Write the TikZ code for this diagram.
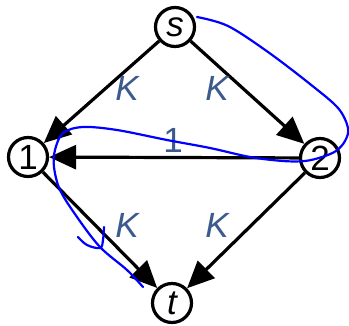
\documentclass[tikz,border=0pt]{standalone}
\usepackage{fontspec}
\setmainfont{Liberation Sans}
\usepackage{tikz}
\usetikzlibrary{arrows.meta}
\definecolor{labelblue}{RGB}{60,90,140}
\tikzset{
  vertex/.style={draw, circle, line width=3.2pt, minimum size=39pt, inner sep=0pt, fill=white, font=\fontsize{35}{40}\selectfont},
  edgearrow/.style={-{Triangle[length=27pt,width=24pt]}, line width=3.2pt},
  edgelabel/.style={text=labelblue, font=\fontsize{35}{40}\selectfont\itshape},
  scribble/.style={blue, line width=2.2pt, line cap=round, line join=round},
}

\begin{document}
\begin{tikzpicture}[x=1pt, y=-1pt]
  \useasboundingbox (0,0) rectangle (349,325);

  % Vertices
  \node[vertex] (s) at (175,27) {\itshape s};
  \node[vertex] (one) at (28,157) {1};
  \node[vertex] (two) at (320,158) {2};
  \node[vertex] (t) at (172,303) {\itshape t};

  % Edges
  \draw[edgearrow] (s) -- (one);
  \draw[edgearrow] (s) -- (two);
  \draw[edgearrow] (two) -- (one);
  \draw[edgearrow] (one) -- (t);
  \draw[edgearrow] (two) -- (t);

  % Capacities
  \node[edgelabel] (ks1) at (127,88) {K};
  \node[edgelabel] (ks2) at (217,88) {K};
  \node[edgelabel, font=\fontsize{35}{40}\selectfont] (k21) at (173,140) {1};
  \node[edgelabel] (k1t) at (127,225) {K};
  \node[edgelabel] (k2t) at (217,225) {K};

  % Freehand path
  \draw[scribble] plot[smooth, tension=0.55] coordinates {
    (197,17) (228,26) (268,52) (310,84) (338,108)
    (348,128) (345,141) (336,151) (322,157) (305,161) (283,161)
    (250,157) (210,148) (167,140) (117,130) (83,127) (63,133) (55,150)
    (54,167) (60,190) (77,217) (100,247) (127,270) (143,287)};
  \draw[scribble] plot[smooth, tension=0.6] coordinates {
    (78,237) (87,245) (100,248) (103,240) (104,227)};
\end{tikzpicture}
\end{document}
